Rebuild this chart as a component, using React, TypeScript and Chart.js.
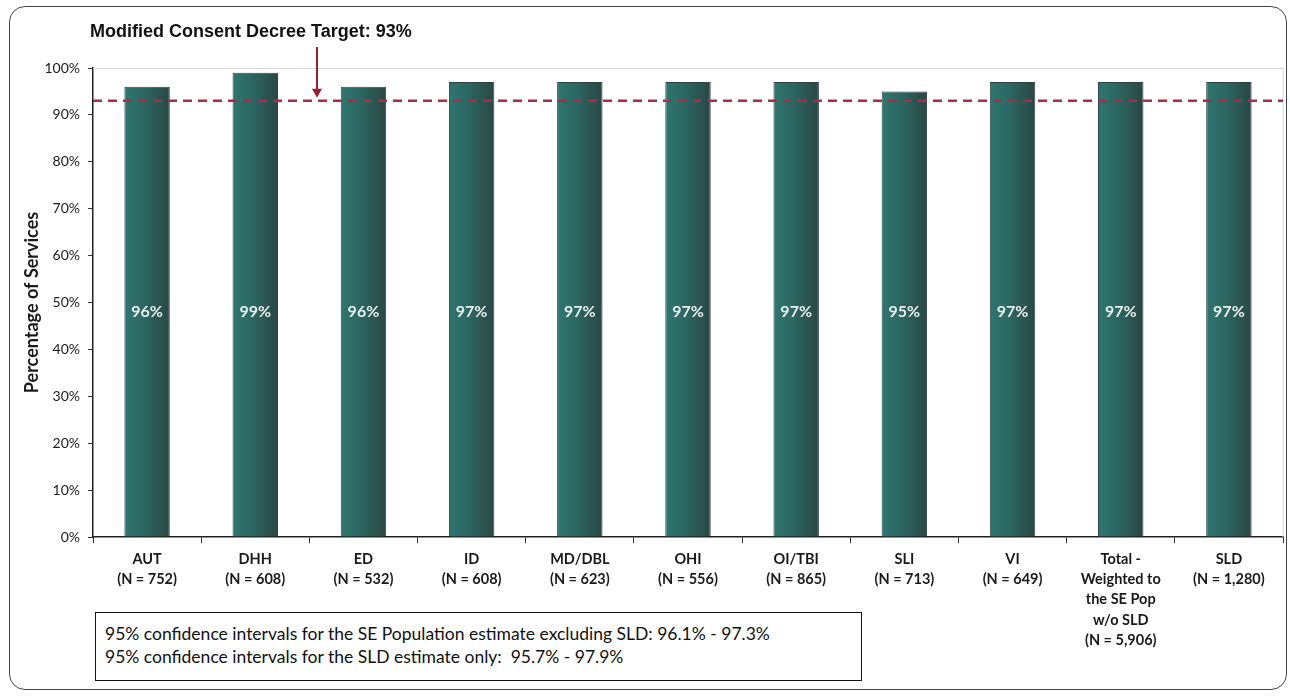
import React, { useEffect, useRef } from "react";
import { Chart, registerables } from "chart.js";

Chart.register(...registerables);

// Categories along the x axis and their sample sizes
const categoryNames = ["AUT", "DHH", "ED", "ID", "MD/DBL", "OHI", "OI/TBI", "SLI", "VI", "Total -", "SLD"];
const sampleSizes = ["752", "608", "532", "608", "623", "556", "865", "713", "649", "5,906", "1,280"];
const totalSubLines = ["Weighted to", "the SE Pop", "w/o SLD"];
const totalIndex = 9;

// Percentage of services per category
const percentServices = [96, 99, 96, 97, 97, 97, 97, 95, 97, 97, 97];

// Y axis ticks and target
const yTickValues = [0, 10, 20, 30, 40, 50, 60, 70, 80, 90, 100];
const targetPercent = 93;
const targetTitle = "Modified Consent Decree Target: 93%";
const valueLabelLevel = 48;

const confidenceNotes = [
  "95% confidence intervals for the SE Population estimate excluding SLD: 96.1% - 97.3%",
  "95% confidence intervals for the SLD estimate only:  95.7% - 97.9%",
];

const W = 1290;
const H = 696;
const BODY_FONT = "Lato, 'Open Sans', sans-serif";

const xLabels = categoryNames.map((name, i) =>
  i === totalIndex ? [name, ...totalSubLines, `(N = ${sampleSizes[i]})`] : [name, `(N = ${sampleSizes[i]})`]
);

const overlayPlugin = {
  id: "targetOverlay",
  afterDatasetsDraw(chart: any) {
    const { ctx, chartArea, scales } = chart;
    const ys = scales.y;
    const meta = chart.getDatasetMeta(0);
    ctx.save();

    // faint plot-area frame (top and right)
    ctx.strokeStyle = "#d8d8d8";
    ctx.lineWidth = 1;
    ctx.beginPath();
    ctx.moveTo(chartArea.left, chartArea.top + 0.5);
    ctx.lineTo(chartArea.right, chartArea.top + 0.5);
    ctx.lineTo(chartArea.right, chartArea.bottom);
    ctx.stroke();

    // value labels inside bars
    ctx.fillStyle = "#e9efed";
    ctx.font = `bold 16px ${BODY_FONT}`;
    ctx.textAlign = "center";
    ctx.textBaseline = "middle";
    const ly = ys.getPixelForValue(valueLabelLevel);
    meta.data.forEach((bar: any, i: number) => {
      ctx.fillText(`${percentServices[i]}%`, bar.x, ly);
    });

    // dashed target line
    const ty = ys.getPixelForValue(targetPercent);
    ctx.strokeStyle = "#a52f48";
    ctx.lineWidth = 2.5;
    ctx.setLineDash([9, 6]);
    ctx.beginPath();
    ctx.moveTo(chartArea.left, ty);
    ctx.lineTo(chartArea.right, ty);
    ctx.stroke();
    ctx.setLineDash([]);

    // title and arrow pointing at the target line
    ctx.fillStyle = "#111";
    ctx.font = "bold 18px 'Liberation Sans', Arial, sans-serif";
    ctx.textAlign = "left";
    ctx.textBaseline = "alphabetic";
    ctx.fillText(targetTitle, 90, 37);

    const ax = chartArea.left + 224;
    ctx.strokeStyle = "#9b1f35";
    ctx.fillStyle = "#9b1f35";
    ctx.lineWidth = 2;
    ctx.beginPath();
    ctx.moveTo(ax, 47);
    ctx.lineTo(ax, ty - 10);
    ctx.stroke();
    ctx.beginPath();
    ctx.moveTo(ax - 5, ty - 12);
    ctx.lineTo(ax + 5, ty - 12);
    ctx.lineTo(ax, ty - 3);
    ctx.closePath();
    ctx.fill();

    ctx.restore();
  },
};

export default function App() {
  const canvasRef = useRef<HTMLCanvasElement | null>(null);

  useEffect(() => {
    const canvas = canvasRef.current;
    if (!canvas) return;
    const chart = new Chart(canvas, {
      type: "bar",
      data: {
        labels: xLabels,
        datasets: [
          {
            data: percentServices,
            backgroundColor: (c: any) => {
              const xs = c.chart.scales?.x;
              if (!xs || c.dataIndex == null || !xs.width) return "#2c6661";
              const cx = xs.getPixelForValue(c.dataIndex);
              const half = (xs.width / categoryNames.length) * 0.42 * 0.5;
              const g = c.chart.ctx.createLinearGradient(cx - half, 0, cx + half, 0);
              g.addColorStop(0, "#2f766f");
              g.addColorStop(0.4, "#2c6863");
              g.addColorStop(1, "#2a4744");
              return g;
            },
            borderColor: "rgba(24,48,45,0.9)",
            borderWidth: 1,
            barPercentage: 0.42,
            categoryPercentage: 1,
          },
        ],
      },
      options: {
        responsive: false,
        animation: false,
        layout: { padding: { left: 0, right: 7, top: 68, bottom: 0 } },
        plugins: {
          legend: { display: false },
          title: { display: false },
          tooltip: { enabled: false },
        },
        scales: {
          x: {
            grid: {
              offset: true,
              drawOnChartArea: false,
              drawTicks: true,
              tickLength: 6,
              color: "#333",
            },
            border: { color: "#222", width: 1.5 },
            ticks: {
              color: "#1a1a1a",
              font: { family: BODY_FONT, size: 14.5, weight: "bold", lineHeight: 1.4 },
              padding: 6,
              maxRotation: 0,
              autoSkip: false,
            },
            afterFit: (s: any) => {
              s.height = 159;
            },
          },
          y: {
            min: 0,
            max: 100,
            afterBuildTicks: (s: any) => {
              s.ticks = yTickValues.map((v) => ({ value: v }));
            },
            grid: {
              drawOnChartArea: false,
              drawTicks: true,
              tickLength: 5,
              color: "#333",
            },
            border: { color: "#222", width: 1.5 },
            ticks: {
              color: "#1a1a1a",
              font: { family: BODY_FONT, size: 14 },
              padding: 8,
              callback: (v: any) => `${v}%`,
            },
            title: {
              display: true,
              text: "Percentage of Services",
              color: "#1a1a1a",
              font: { family: BODY_FONT, size: 18, weight: "bold" },
              padding: { top: 21, bottom: 0 },
            },
            afterFit: (s: any) => {
              s.width = 93;
            },
          },
        },
      },
      plugins: [overlayPlugin],
    });
    return () => chart.destroy();
  }, []);

  return (
    <div
      style={{
        position: "absolute",
        left: 0,
        top: 0,
        width: W,
        height: H,
        overflow: "hidden",
        background: "#fff",
      }}
    >
      <canvas ref={canvasRef} width={W} height={H} style={{ display: "block", position: "absolute", left: 0, top: 0 }} />
      <div
        style={{
          position: "absolute",
          left: 9,
          top: 6,
          width: 1278,
          height: 684,
          boxSizing: "border-box",
          border: "1.5px solid #444",
          borderRadius: 16,
          pointerEvents: "none",
        }}
      />
      <div
        style={{
          position: "absolute",
          left: 95,
          top: 612,
          width: 767,
          height: 69,
          boxSizing: "border-box",
          border: "1.5px solid #111",
          background: "#fff",
          padding: "9px 0 0 9px",
          fontFamily: BODY_FONT,
          fontSize: 17.5,
          lineHeight: "23px",
          color: "#111",
        }}
      >
        {confidenceNotes.map((t) => (
          <div key={t} style={{ whiteSpace: "pre" }}>
            {t}
          </div>
        ))}
      </div>
    </div>
  );
}
